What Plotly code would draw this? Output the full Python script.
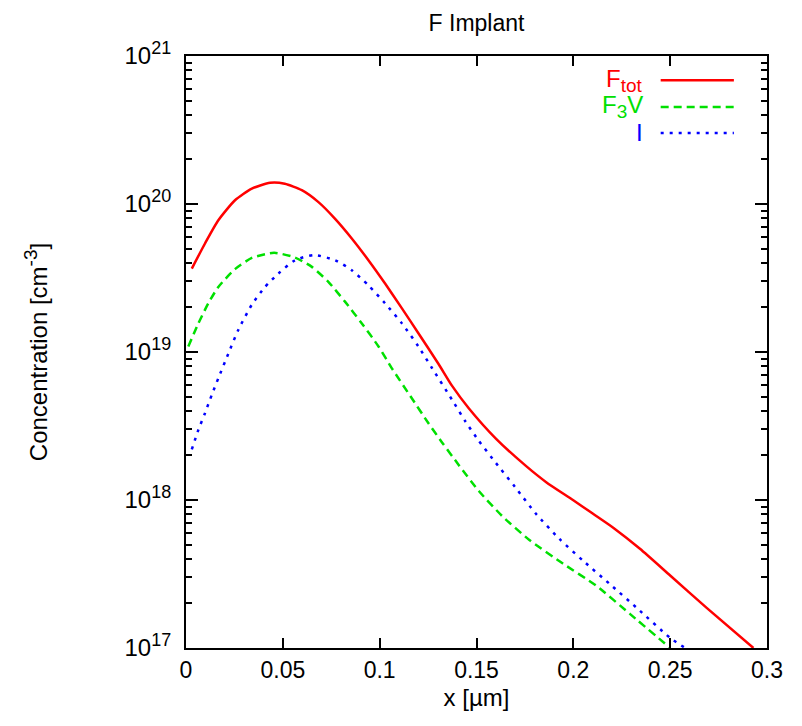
import plotly.graph_objects as go

# F_tot
x_tot = [0.003, 0.0098, 0.0167, 0.0253, 0.034, 0.0434, 0.051, 0.0598, 0.0684, 0.077,
         0.0856, 0.0942, 0.1028, 0.1115, 0.120, 0.1304, 0.1374, 0.146, 0.160,
         0.1755, 0.186, 0.1998, 0.210, 0.2206, 0.2344, 0.250, 0.269, 0.293]
c_tot = [3.66e19, 5.41e19, 7.76e19, 1.06e20, 1.27e20, 1.39e20, 1.37e20, 1.24e20, 1.03e20, 7.94e19,
         5.85e19, 4.17e19, 2.90e19, 1.97e19, 1.34e19, 8.3e18, 5.9e18, 4.17e18, 2.6e18,
         1.7e18, 1.32e18, 1.0e18, 8.1e17, 6.5e17, 4.68e17, 3.09e17, 1.86e17, 1.0e17]

# F3V
x_f3v = [0.0012, 0.0064, 0.0115, 0.0167, 0.0253, 0.034, 0.0455, 0.0563, 0.065, 0.0735,
         0.0822, 0.0908, 0.0994, 0.1063, 0.116, 0.1252, 0.1322, 0.1409, 0.1512, 0.1634,
         0.1773, 0.1946, 0.2119, 0.2292, 0.250]
c_f3v = [1.09e19, 1.56e19, 2.13e19, 2.75e19, 3.63e19, 4.32e19, 4.68e19, 4.35e19, 3.76e19, 2.98e19,
         2.18e19, 1.56e19, 1.09e19, 7.76e18, 5.0e18, 3.30e18, 2.45e18, 1.72e18, 1.15e18, 7.76e17,
         5.37e17, 3.72e17, 2.63e17, 1.70e17, 1.0e17]

# I
x_i = [0.003, 0.0064, 0.0098, 0.0133, 0.0167, 0.0219, 0.027, 0.034, 0.0408, 0.0477,
       0.0563, 0.066, 0.077, 0.0856, 0.0942, 0.1028, 0.1115, 0.120, 0.127, 0.1374,
       0.1443, 0.1512, 0.160, 0.170, 0.1807, 0.1928, 0.205, 0.2189, 0.2327, 0.250, 0.2578]
c_i = [2.2e18, 2.98e18, 3.86e18, 5.13e18, 6.65e18, 9.77e18, 1.41e19, 2.09e19, 2.75e19, 3.39e19,
       4.17e19, 4.52e19, 4.17e19, 3.57e19, 2.82e19, 2.13e19, 1.56e19, 1.09e19, 7.8e18, 4.75e18,
       3.39e18, 2.51e18, 1.78e18, 1.22e18, 8.07e17, 5.46e17, 3.89e17, 2.70e17, 1.87e17, 1.17e17, 1.0e17]

x_ticks = [0, 0.05, 0.1, 0.15, 0.2, 0.25, 0.3]
x_ticklabels = ["0", "0.05", "0.1", "0.15", "0.2", "0.25", "0.3"]
y_ticks = [1e17, 1e18, 1e19, 1e20, 1e21]
y_exponents = ["17", "18", "19", "20", "21"]
y_ticklabels = ["10<sup><span style='font-size:18px'>%s</span></sup>" % e for e in y_exponents]

RED = "#ff0000"
GREEN = "#00e000"
BLUE = "#0000ff"
FONT = "Liberation Sans, Arial, sans-serif"

fig = go.Figure()
fig.add_trace(go.Scatter(x=x_tot, y=c_tot, mode="lines",
                         line=dict(color=RED, width=2.5, shape="spline", smoothing=0.6), showlegend=False))
fig.add_trace(go.Scatter(x=x_f3v, y=c_f3v, mode="lines",
                         line=dict(color=GREEN, width=2.5, dash="8px,5px", shape="spline", smoothing=0.6),
                         showlegend=False))
fig.add_trace(go.Scatter(x=x_i, y=c_i, mode="lines",
                         line=dict(color=BLUE, width=2.5, dash="3px,6px", shape="spline", smoothing=0.6),
                         showlegend=False))

# custom legend (text on left, sample on right, as in the gnuplot key)
legend_items = [("F<sub><span style='font-size:19px'>tot</span></sub>", RED, "solid", 0.959),
                ("F<sub><span style='font-size:19px'>3</span></sub>V", GREEN, "8px,5px", 0.914),
                ("I", BLUE, "3px,6px", 0.870)]
for label, col, dash, yy in legend_items:
    fig.add_annotation(xref="paper", yref="paper", x=0.79, y=yy, text=label, showarrow=False,
                       xanchor="right", yanchor="middle", font=dict(color=col, size=24, family=FONT))
    fig.add_shape(type="line", xref="paper", yref="paper", x0=0.817, x1=0.943, y0=yy, y1=yy,
                  line=dict(color=col, width=2.5, dash=dash))

fig.update_layout(
    width=802, height=726,
    margin=dict(l=178, r=43, t=48, b=86),
    paper_bgcolor="white", plot_bgcolor="white",
    font=dict(family=FONT, size=24, color="black"),
    title=dict(text="F Implant", x=0.5, xanchor="center", xref="paper", y=0.979, yanchor="middle",
               font=dict(size=23, family=FONT)),
)
fig.update_xaxes(range=[0, 0.3], tickvals=x_ticks, ticktext=x_ticklabels, ticks="inside", ticklen=10,
                 tickwidth=1.5, tickcolor="black", showline=True, linecolor="black", linewidth=2,
                 mirror="allticks", showgrid=False, zeroline=False, tickfont=dict(size=23),
                 title=dict(text="x [µm]", standoff=8, font=dict(size=24)))
fig.update_yaxes(type="log", range=[17, 21], tickvals=y_ticks, ticktext=y_ticklabels, ticks="inside",
                 ticklen=12, tickwidth=1.5, tickcolor="black", showline=True, linecolor="black", linewidth=2,
                 mirror="allticks", showgrid=False, zeroline=False, ticklabelstandoff=8, tickfont=dict(size=24),
                 minor=dict(ticks="inside", ticklen=6, tickwidth=1.5, tickcolor="black", dtick="D1", showgrid=False),
                 title=dict(text="Concentration [cm<sup><span style='font-size:19px'>-3</span></sup>]",
                            standoff=70, font=dict(size=24)))

fig.write_html("out.html")
